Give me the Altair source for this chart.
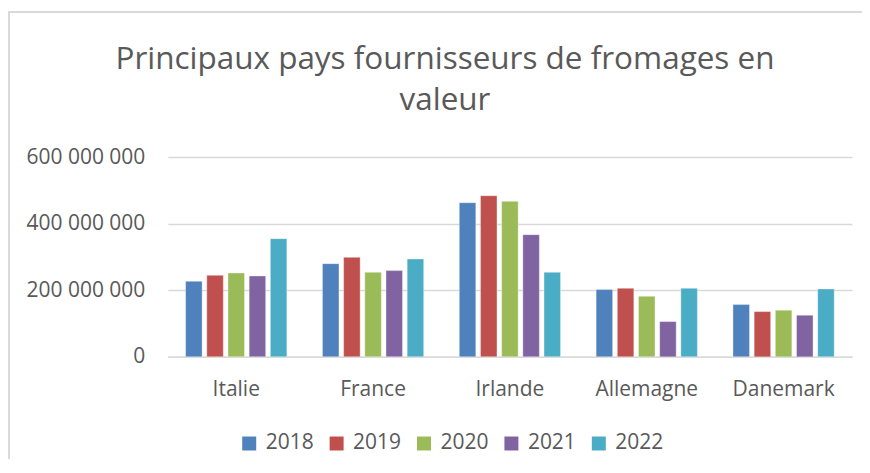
import altair as alt
import pandas as pd

countries = ["Italie", "France", "Irlande", "Allemagne", "Danemark"]
years = ["2018", "2019", "2020", "2021", "2022"]
values = {
    "2018": [227e6, 280e6, 463e6, 202e6, 157e6],
    "2019": [245e6, 299e6, 484e6, 206e6, 136e6],
    "2020": [252e6, 254e6, 467e6, 182e6, 140e6],
    "2021": [243e6, 259e6, 367e6, 106e6, 125e6],
    "2022": [355e6, 294e6, 254e6, 206e6, 204e6],
}
colors = ["#4F81BD", "#C0504D", "#9BBB59", "#8064A2", "#4BACC6"]

rows = []
for y in years:
    for c, v in zip(countries, values[y]):
        rows.append({"Pays": c, "Année": y, "Valeur": v})
df = pd.DataFrame(rows)

FONT = "Open Sans"
GREY = "#595959"

bars = alt.Chart(df).mark_bar(stroke="white", strokeWidth=0.6, strokeOpacity=0.6).encode(
    x=alt.X("Pays:N", sort=countries, title=None,
            scale=alt.Scale(paddingInner=0.26, paddingOuter=0.13),
            axis=alt.Axis(labelAngle=0, labelFontSize=21, labelColor=GREY, labelFont=FONT,
                          labelPadding=22, ticks=False, grid=False,
                          domainColor="#d9d9d9", domainWidth=1.5)),
    xOffset=alt.XOffset("Année:N", sort=years, scale=alt.Scale(paddingInner=0.22)),
    y=alt.Y("Valeur:Q", title=None,
            scale=alt.Scale(domain=[0, 600e6]),
            axis=alt.Axis(values=[0, 200e6, 400e6, 600e6], labelExpr="replace(format(datum.value, ',d'), /,/g, ' ')",
                          labelFontSize=21, labelColor=GREY, labelFont=FONT, labelPadding=23,
                          ticks=False, domain=False, gridColor="#d9d9d9", gridWidth=1.5)),
    color=alt.Color("Année:N", sort=years, scale=alt.Scale(domain=years, range=colors),
                    legend=alt.Legend(title=None, orient="none", direction="horizontal",
                                      legendX=71, legendY=276, symbolType="square", symbolSize=196,
                                      symbolStrokeWidth=0, labelFontSize=21, labelColor=GREY,
                                      labelFont=FONT, columnPadding=11.5, labelOffset=6)),
)

frame_top = alt.Chart(df).mark_rule(color="#d9d9d9", strokeWidth=1.5, clip=False).encode(
    x=alt.value(-160), x2=alt.value(700), y=alt.value(-145))
frame_left = alt.Chart(df).mark_rule(color="#d9d9d9", strokeWidth=1.5, clip=False).encode(
    x=alt.value(-159.3), y=alt.value(-145), y2=alt.value(305))

chart = alt.layer(bars, frame_top, frame_left).properties(
    width=685, height=200,
    autosize=alt.AutoSizeParams(type="none"),
    padding={"left": 160, "top": 149, "right": 10, "bottom": 102},
    background="white",
    title=alt.Title(["Principaux pays fournisseurs de fromages en", "valeur"],
                    fontSize=31.5, font=FONT, fontWeight="normal", color=GREY,
                    anchor="middle", frame="group", dx=-65, offset=-105, lineHeight=41),
).configure_view(strokeWidth=0, stroke=None)

chart.save("out.html", embed_options={"renderer": "svg", "actions": False})
